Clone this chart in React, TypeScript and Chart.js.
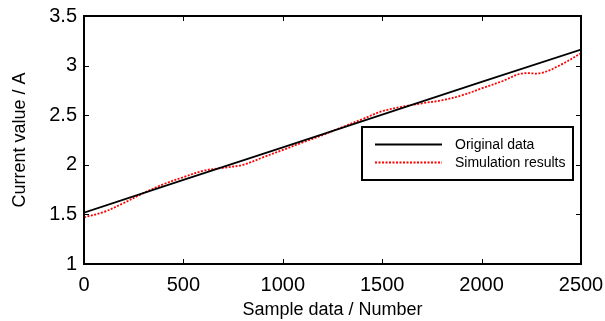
import React, { useEffect, useRef } from "react";
import { Chart, registerables } from "chart.js";

Chart.register(...registerables);

// ---- data ----
const originalX = [0, 500, 1000, 1500, 2000, 2500];
const originalY = [1.517, 1.847, 2.176, 2.506, 2.836, 3.162];

const simulationX = [
  0, 100, 200, 300, 400, 500, 600, 700, 800, 900, 1000, 1100, 1200, 1300,
  1400, 1500, 1600, 1700, 1800, 1900, 2000, 2100, 2200, 2300, 2400, 2500,
];
const simulationY = [
  1.47, 1.525, 1.615, 1.715, 1.805, 1.875, 1.94, 1.97, 2.0, 2.075, 2.15,
  2.225, 2.3, 2.38, 2.46, 2.54, 2.585, 2.62, 2.65, 2.7, 2.77, 2.84, 2.92,
  2.925, 3.01, 3.125,
];

const seriesLabels = ["Original data", "Simulation results"];
const xTicks = [0, 500, 1000, 1500, 2000, 2500];
const yTicks = [1, 1.5, 2, 2.5, 3, 3.5];
const xTitle = "Sample data / Number";
const yTitle = "Current value / A";

const FONT = "'Liberation Sans', Arial, sans-serif";

const framePlugin = {
  id: "matlabFrame",
  afterDraw(chart: any) {
    const { ctx, chartArea } = chart;
    const { left, right, top, bottom } = chartArea;
    const xs = chart.scales.x;
    const ys = chart.scales.y;
    const len = 5;
    ctx.save();
    ctx.strokeStyle = "#000";
    ctx.lineWidth = 1;
    ctx.beginPath();
    xTicks.forEach((v) => {
      const px = Math.round(xs.getPixelForValue(v)) + 0.5;
      ctx.moveTo(px, bottom);
      ctx.lineTo(px, bottom - len);
      ctx.moveTo(px, top);
      ctx.lineTo(px, top + len);
    });
    yTicks.forEach((v) => {
      const py = Math.round(ys.getPixelForValue(v)) + 0.5;
      ctx.moveTo(left, py);
      ctx.lineTo(left + len, py);
      ctx.moveTo(right, py);
      ctx.lineTo(right - len, py);
    });
    ctx.stroke();
    ctx.lineWidth = 2;
    ctx.strokeRect(left, top, right - left, bottom - top);

    // legend box
    const bx = 362;
    const by = 127;
    const bw = 211;
    const bh = 53;
    ctx.fillStyle = "#fff";
    ctx.fillRect(bx, by, bw, bh);
    ctx.lineWidth = 2;
    ctx.strokeRect(bx, by, bw, bh);
    const ds = chart.data.datasets;
    const rows = [144, 162];
    ds.forEach((d: any, i: number) => {
      const y = rows[i] + 0.5;
      ctx.beginPath();
      ctx.strokeStyle = d.borderColor;
      ctx.lineWidth = d.borderWidth;
      ctx.setLineDash(d.borderDash || []);
      ctx.moveTo(375, y);
      ctx.lineTo(442, y);
      ctx.stroke();
      ctx.setLineDash([]);
      ctx.fillStyle = "#000";
      ctx.font = `14px ${FONT}`;
      ctx.textBaseline = "middle";
      ctx.textAlign = "left";
      ctx.fillText(d.label, 455, rows[i] + 1);
    });
    ctx.restore();
  },
};

export default function App() {
  const ref = useRef<HTMLCanvasElement>(null);
  useEffect(() => {
    document.body.style.margin = "0";
    const canvas = ref.current!;
    const chart = new Chart(canvas, {
      type: "line",
      data: {
        datasets: [
          {
            label: seriesLabels[0],
            data: originalX.map((x, i) => ({ x, y: originalY[i] })),
            borderColor: "#000",
            borderWidth: 1.8,
            pointRadius: 0,
            tension: 0,
          },
          {
            label: seriesLabels[1],
            data: simulationX.map((x, i) => ({ x, y: simulationY[i] })),
            borderColor: "#ff0000",
            borderWidth: 1.8,
            borderDash: [2, 1.5],
            pointRadius: 0,
            tension: 0.35,
          },
        ],
      },
      options: {
        animation: false,
        responsive: false,
        events: [],
        layout: { padding: { top: 16, right: 24, left: 0, bottom: 0 } },
        plugins: { legend: { display: false }, tooltip: { enabled: false } },
        scales: {
          x: {
            type: "linear",
            min: 0,
            max: 2500,
            afterBuildTicks: (s: any) => {
              s.ticks = xTicks.map((v) => ({ value: v }));
            },
            afterFit: (s: any) => {
              s.height = 57;
              s.paddingLeft = 0;
              s.paddingRight = 0;
            },
            grid: { display: false, drawTicks: false },
            border: { display: false },
            ticks: {
              color: "#000",
              padding: 9,
              maxRotation: 0,
              font: { family: FONT, size: 20 },
              callback: (v: any) => String(v),
            },
            title: {
              display: true,
              text: xTitle,
              color: "#000",
              font: { family: FONT, size: 18 },
              padding: { top: 0, bottom: 0 },
            },
          },
          y: {
            type: "linear",
            min: 1,
            max: 3.5,
            afterBuildTicks: (s: any) => {
              s.ticks = yTicks.map((v) => ({ value: v }));
            },
            afterFit: (s: any) => {
              s.width = 84;
              s.paddingTop = 0;
              s.paddingBottom = 0;
            },
            grid: { display: false, drawTicks: false },
            border: { display: false },
            ticks: {
              color: "#000",
              padding: 7,
              font: { family: FONT, size: 20 },
              callback: (v: any) => String(v),
            },
            title: {
              display: true,
              text: yTitle,
              color: "#000",
              font: { family: FONT, size: 18 },
              padding: { top: 9, bottom: 0 },
            },
          },
        },
      },
      plugins: [framePlugin],
    });
    return () => chart.destroy();
  }, []);
  return (
    <div style={{ width: 605, height: 321, background: "#fff" }}>
      <canvas ref={ref} width={605} height={321} style={{ display: "block" }} />
    </div>
  );
}
